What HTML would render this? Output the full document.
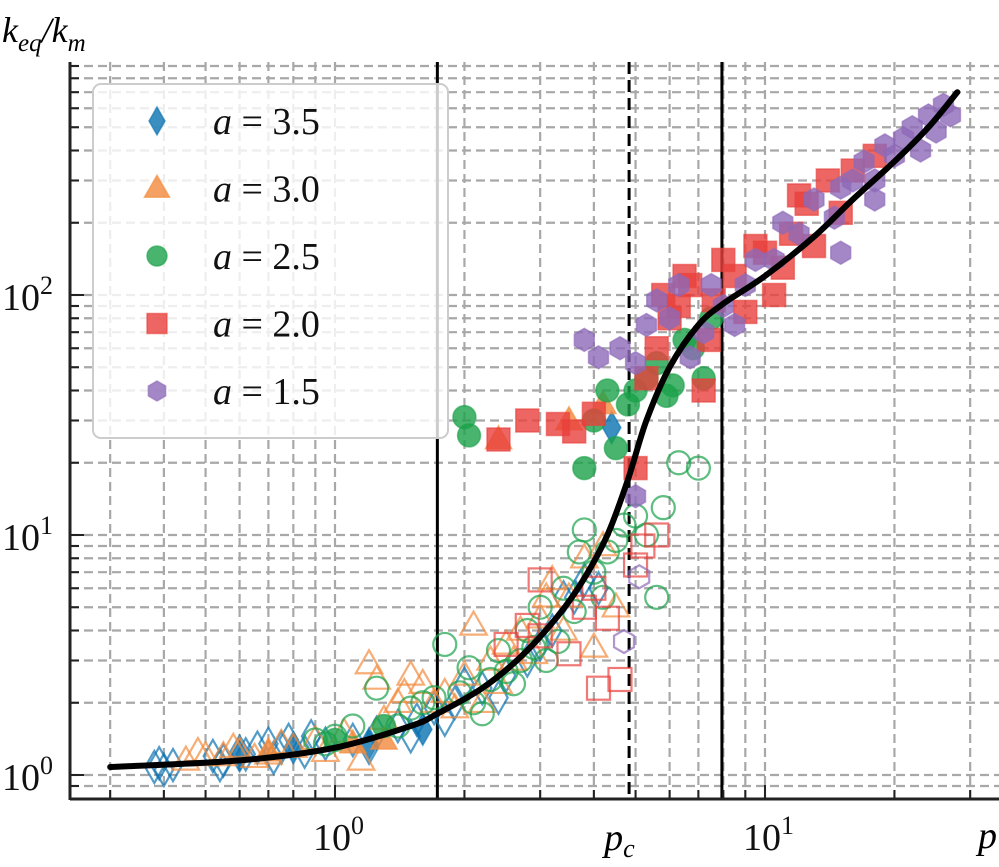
<!DOCTYPE html>
<html><head><meta charset="utf-8">
<style>
html,body{margin:0;padding:0;background:#fff;}
svg{display:block;}
svg text, svg tspan{font-family:"Liberation Serif","DejaVu Serif",serif;}
</style></head>
<body>
<svg id="chart" width="999" height="867" viewBox="0 0 999 867" xmlns="http://www.w3.org/2000/svg">
<g id="grid"></g>
<g id="vlines"></g>
<g id="points"></g>
<g id="curve"></g>
<g id="axes"></g>
<g id="legend"></g>
<text x="2" y="42" font-size="36" font-style="italic">k<tspan font-size="25" dy="9">eq</tspan><tspan dy="-9">/k</tspan><tspan font-size="25" dy="9">m</tspan></text>
</svg>
<script>
// ---- data ----
const xTicksMajor = [1, 10];
const xTickExp = ["0", "1"];
const yTicksMajor = [1, 10, 100];
const yTickExp = ["0", "1", "2"];
const refLines = [1.73, 4.83, 7.94];
const refDashed = [false, true, false];
const curveP = [0.3,0.6,1.0,1.5,1.73,2.2,2.7,3.3,3.8,4.3,4.8,5.3,6,7,8,10,13,16,20,24,28];
const curveK = [1.08,1.15,1.3,1.6,1.8,2.3,3.1,4.6,6.6,10,17,30,50,75,92,120,175,250,360,500,700];
const seriesNames = ["3.5","3.0","2.5","2.0","1.5"];
const seriesColors = ["#0a72b0","#f28a3c","#1aa14a","#e8403c","#8d69b8"];
const seriesShapes = ["diamond","triangle","circle","square","hexagon"];
// [p, k, filled]
const s35 = [[0.38,1.08,0],[0.39,1.12,0],[0.4,1.05,0],[0.42,1.1,0],[0.52,1.2,0],[0.54,1.1,0],[0.55,1.15,0],[0.6,1.25,0],[0.62,1.22,0],[0.66,1.3,0],[0.7,1.35,0],[0.72,1.18,0],[0.75,1.3,0],[0.78,1.4,0],[0.85,1.25,0],[0.88,1.45,0],[0.95,1.35,0],[1.1,1.4,0],[1.2,1.3,0],[1.25,1.5,0],[1.4,1.6,0],[1.5,1.45,0],[1.55,1.7,0],[1.7,1.9,0],[1.8,1.7,0],[1.9,2.0,0],[2.0,2.4,0],[2.2,2.3,0],[2.4,2.1,0],[2.5,2.6,0],[2.8,3.0,0],[3.0,3.5,0],[3.2,4.0,0],[3.4,5.5,0],[3.6,5.5,0],[3.8,6.5,0],[4.1,6.0,0],[4.4,28,1],[1.6,1.55,1],[1.2,1.35,1],[0.8,1.3,1],[0.6,1.2,1]];
const s30 = [[0.45,1.15,0],[0.48,1.25,0],[0.5,1.2,0],[0.55,1.2,0],[0.58,1.3,0],[0.6,1.25,0],[0.65,1.18,0],[0.7,1.22,0],[0.75,1.35,0],[0.8,1.3,0],[0.9,1.4,0],[0.95,1.25,0],[1.05,1.5,0],[1.15,1.15,0],[1.2,2.9,0],[1.25,2.5,0],[1.3,1.7,0],[1.4,2.0,0],[1.45,2.2,0],[1.5,2.6,0],[1.6,2.4,0],[1.7,2.0,0],[1.8,2.2,0],[1.9,1.9,0],[2.0,2.6,0],[2.1,4.2,0],[2.2,2.0,0],[2.3,3.0,0],[2.4,2.4,0],[2.5,3.5,0],[2.6,3.0,0],[2.7,4.0,0],[2.9,3.2,0],[3.0,4.5,0],[3.1,5.5,0],[3.2,6.5,0],[3.4,4.0,0],[3.5,5.5,0],[3.8,8,0],[4.0,3.4,0],[4.2,9,0],[4.5,5,0],[2.4,25,1],[3.5,30,1],[4.2,35,1],[1.3,1.4,1],[1.1,1.35,1],[0.7,1.25,1]];
const s25 = [[0.9,1.4,0],[0.95,1.35,0],[1.0,1.45,0],[1.1,1.6,0],[1.25,2.3,0],[1.4,1.6,0],[1.5,1.9,0],[1.6,2.0,0],[1.7,2.1,0],[1.8,3.5,0],[1.95,2.2,0],[2.05,2.8,0],[2.1,2.0,0],[2.2,1.8,0],[2.3,2.5,0],[2.4,3.3,0],[2.5,2.7,0],[2.6,2.4,0],[2.7,3.0,0],[2.8,4.0,0],[2.9,3.4,0],[3.0,5.0,0],[3.1,3.0,0],[3.3,3.6,0],[3.4,6.0,0],[3.6,4.8,0],[3.7,8.5,0],[3.8,10.5,0],[4.0,7,0],[4.2,5.5,0],[4.3,8.5,0],[4.5,9.5,0],[4.7,11,0],[5.0,12,0],[5.3,10,0],[5.6,5.5,0],[5.8,13,0],[6.3,20,0],[7.0,19,0],[2.0,31,1],[2.05,26,1],[3.8,19,1],[4.0,30,1],[4.3,40,1],[4.5,23,1],[4.8,35,1],[5.0,40,1],[5.3,45,1],[5.6,52,1],[5.9,38,1],[6.1,42,1],[6.5,65,1],[6.8,60,1],[7.2,45,1],[7.5,80,1],[1.0,1.4,1],[1.3,1.6,1]];
const s20 = [[2.5,3.5,0],[2.8,4.2,0],[3.0,3.8,0],[3.5,3.2,0],[3.8,5.0,0],[4.1,2.3,0],[4.3,4.5,0],[4.6,2.5,0],[4.0,6.0,0],[5.0,7.5,0],[5.2,9,0],[5.6,10,0],[3.0,6.5,0],[2.4,25,1],[2.8,30,1],[3.3,29,1],[3.6,27,1],[4.0,32,1],[5.0,19,1],[5.3,45,1],[5.6,60,1],[5.8,100,1],[6.0,80,1],[6.3,90,1],[6.5,120,1],[6.7,110,1],[7.2,40,1],[7.4,65,1],[7.6,95,1],[8.0,140,1],[8.5,120,1],[9,85,1],[9.5,160,1],[10,150,1],[10.5,100,1],[11,130,1],[11.5,180,1],[12,260,1],[12.5,240,1],[13,160,1],[14,300,1],[15,220,1],[16,330,1],[18,380,1]];
const s15 = [[3.8,65,1],[4.1,55,1],[4.6,60,1],[5.0,52,1],[5.3,75,1],[5.6,95,1],[6.0,80,1],[6.3,110,1],[6.7,55,1],[7.2,70,1],[7.5,110,1],[8.0,90,1],[8.5,75,1],[9.0,110,1],[9.5,140,1],[10.5,140,1],[11,200,1],[12,180,1],[13,250,1],[14.5,210,1],[15,280,1],[16,300,1],[17,360,1],[18,250,1],[19,420,1],[20,380,1],[21,450,1],[22,500,1],[23,400,1],[24,560,1],[25,480,1],[26,620,1],[27,560,1],[15,150,1],[18,300,1],[5.0,14.5,1],[5.1,6.7,0],[4.7,3.6,0]];
const allSeries = [s35, s30, s25, s20, s15];

// ---- scales ----
const X0 = 335, XD = 430, Y0 = 775, YD = 240;
const L = 70, R = 999, T = 62, B = 799;
const xs = p => X0 + Math.log10(p) * XD;
const ys = k => Y0 - Math.log10(k) * YD;
const NS = "http://www.w3.org/2000/svg";
function mk(tag, attrs, parent){ const e=document.createElementNS(NS,tag); for(const k in attrs) e.setAttribute(k,attrs[k]); parent.appendChild(e); return e; }

// grid
const grid = document.getElementById('grid');
const xGridVals = []; for (const d of [0.1,1,10]) for (let m=1;m<10;m++){ const v=d*m; if (xs(v)>L+5 && xs(v)<R) xGridVals.push(v); }
const yGridVals = []; for (const d of [0.1,1,10,100]) for (let m=1;m<10;m++){ const v=d*m; if (ys(v)>T && ys(v)<B-5) yGridVals.push(v); }
xGridVals.forEach(v=>{ const l=mk('line',{x1:xs(v),x2:xs(v),y1:T,y2:B,stroke:'#a8a8a8','stroke-width':2.2,'stroke-dasharray':'9,5'},grid);
 
  });
yGridVals.forEach(v=>{ const l=mk('line',{x1:L,x2:R,y1:ys(v),y2:ys(v),stroke:'#a8a8a8','stroke-width':2.2,'stroke-dasharray':'9,5'},grid);
 
  });

// ref lines
const vl = document.getElementById('vlines');
refLines.forEach((v,i)=>{ const l=mk('line',{x1:xs(v),x2:xs(v),y1:T,y2:B,stroke:'#000','stroke-width':3},vl);
 if (refDashed[i]) l.setAttribute('stroke-dasharray','12,6');
 
  });

// markers
function marker(shape, cx, cy, s, color, filled, parent){
  let e;
  const st = filled ? {fill:color,'fill-opacity':0.8,stroke:color,'stroke-opacity':0.6,'stroke-width':1.5} : {fill:'none',stroke:color,'stroke-opacity':0.7,'stroke-width':2.2};
  if (shape==='circle') e=mk('circle',Object.assign({cx:cx,cy:cy,r:s},st),parent);
  else if (shape==='square') e=mk('rect',Object.assign({x:cx-s,y:cy-s,width:2*s,height:2*s},st),parent);
  else { let pts;
    if (shape==='diamond') pts=[[0,-s*1.4],[s*0.8,0],[0,s*1.4],[-s*0.8,0]];
    else if (shape==='triangle') pts=[[0,-s*1.2],[s*1.15,s*0.8],[-s*1.15,s*0.8]];
    else { pts=[]; for(let i=0;i<6;i++){const a=Math.PI/3*i+Math.PI/6; pts.push([s*Math.cos(a),s*Math.sin(a)]);} }
    e=mk('polygon',Object.assign({points:pts.map(q=>(cx+q[0])+','+(cy+q[1])).join(' ')},st),parent); }
  return e;
}
const pg = document.getElementById('points');
allSeries.forEach((ser,si)=>{ ser.forEach(d=>{
  const e = marker(seriesShapes[si], xs(d[0]), ys(d[1]), 11.5, seriesColors[si], d[2]===1, pg);
  
  
}); });

// curve (Catmull-Rom smoothing through the data points)
const cg = document.getElementById('curve');
const cp = curveP.map((p,i)=>[xs(p), ys(curveK[i])]);
let d = 'M'+cp[0][0].toFixed(1)+','+cp[0][1].toFixed(1);
for (let i=0;i<cp.length-1;i++){
  const p0=cp[Math.max(0,i-1)], p1=cp[i], p2=cp[i+1], p3=cp[Math.min(cp.length-1,i+2)];
  const c1=[p1[0]+(p2[0]-p0[0])/6, p1[1]+(p2[1]-p0[1])/6];
  const c2=[p2[0]-(p3[0]-p1[0])/6, p2[1]-(p3[1]-p1[1])/6];
  d += ' C'+c1.map(v=>v.toFixed(1)).join(',')+' '+c2.map(v=>v.toFixed(1)).join(',')+' '+p2.map(v=>v.toFixed(1)).join(',');
}
const path = mk('path',{d:d,fill:'none',stroke:'#000','stroke-width':6,'stroke-linejoin':'round','stroke-linecap':'round'},cg);



// axes
const ax = document.getElementById('axes');
const sp1 = mk('line',{x1:L,x2:L,y1:T,y2:B+1,stroke:'#222','stroke-width':3},ax);


const sp2 = mk('line',{x1:L,x2:R,y1:B,y2:B,stroke:'#222','stroke-width':3},ax);


xGridVals.forEach(v=>{ const maj = xTicksMajor.includes(v);
 const t=mk('line',{x1:xs(v),x2:xs(v),y1:B,y2:B-(maj?14:9),stroke:'#222','stroke-width':2},ax);
 
  });
yGridVals.forEach(v=>{ const maj = yTicksMajor.includes(v);
 const t=mk('line',{x1:L,x2:L+(maj?14:9),y1:ys(v),y2:ys(v),stroke:'#222','stroke-width':2},ax);
 
  });
xTicksMajor.forEach((v,i)=>{ const t=mk('text',{x:xs(v)-22,y:850,'font-size':38,fill:'#111'},ax);
 t.innerHTML='10<tspan font-size="26" dy="-16">'+xTickExp[i]+'</tspan>';
 
  });
yTicksMajor.forEach((v,i)=>{ const t=mk('text',{x:2,y:ys(v)+15,'font-size':38,fill:'#111'},ax);
 t.innerHTML='10<tspan font-size="26" dy="-16">'+yTickExp[i]+'</tspan>';
 
  });
const pc = mk('text',{x:xs(4.83)-25,y:850,'font-size':38,'font-style':'italic'},ax);
pc.innerHTML='p<tspan font-size="26" dy="7">c</tspan>';


const pl = mk('text',{x:978,y:848,'font-size':38,'font-style':'italic'},ax);
pl.textContent='p';



// legend
const lg = document.getElementById('legend');
const box = mk('rect',{x:93,y:84,width:355,height:354,rx:8,fill:'#fff','fill-opacity':0.8,stroke:'#ccc','stroke-width':2},lg);


seriesNames.forEach((n,i)=>{ const y=121+i*67.5;
 const m = marker(seriesShapes[i],157,y,i===1?11:10,seriesColors[i],true,lg);
 
 
 const t=mk('text',{x:213,y:y+13,'font-size':38,fill:'#111'},lg);
 t.innerHTML='<tspan font-style="italic">a</tspan> = '+n;
 
  });
</script>
</body></html>
